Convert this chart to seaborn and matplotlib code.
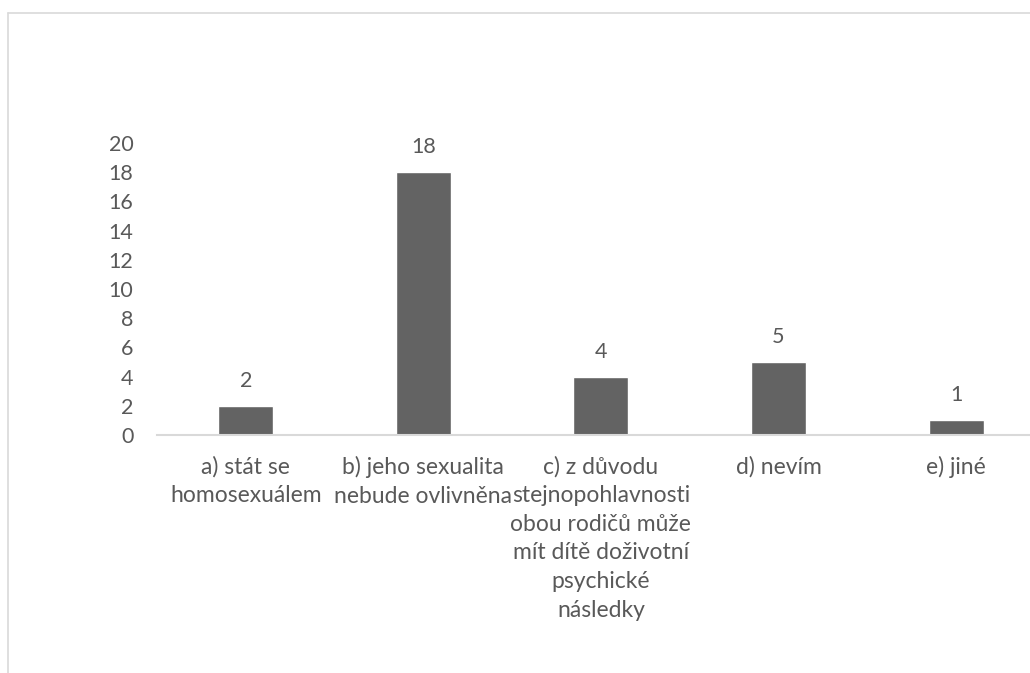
import matplotlib
matplotlib.use('Agg')
import matplotlib.pyplot as plt
import seaborn as sns
from matplotlib.lines import Line2D

# answers and counts
categories = [
    'a) stát se\nhomosexuálem',
    'b) jeho sexualita\nnebude ovlivněna',
    'c) z důvodu\nstejnopohlavnosti\nobou rodičů může\nmít dítě doživotní\npsychické\nnásledky',
    'd) nevím',
    'e) jiné',
]
counts = [2, 18, 4, 5, 1]
y_ticks = [0, 2, 4, 6, 8, 10, 12, 14, 16, 18, 20]

sns.set_style('white')
plt.rcParams['font.family'] = ['Lato', 'DejaVu Sans']
text_color = '#595959'
bar_color = '#636363'
line_color = '#d9d9d9'

fig = plt.figure(figsize=(10.3, 6.73), dpi=100)
ax = fig.add_axes([0.1524, 0.3536, 0.862, 0.4339])

sns.barplot(x=categories, y=counts, color=bar_color, width=0.31,
            saturation=1, ax=ax)

ax.set_xlim(-0.5, 4.5)
ax.set_ylim(0, 20)
ax.set_yticks(y_ticks)
ax.set_yticklabels([str(t) for t in y_ticks])

for i, v in enumerate(counts):
    ax.annotate(str(v), (i, v), xytext=(0, 18), textcoords='offset points',
                ha='center', va='center', fontsize=15.5, color=text_color)

for s in ['top', 'right', 'left']:
    ax.spines[s].set_visible(False)
ax.spines['bottom'].set_color(line_color)
ax.spines['bottom'].set_linewidth(1.5)

ax.tick_params(axis='y', length=0, pad=17, labelsize=15.5, labelcolor=text_color)
ax.tick_params(axis='x', length=0, pad=15, labelsize=16.5, labelcolor=text_color)
for lbl in ax.get_xticklabels():
    lbl.set_linespacing(1.45)
ax.set_xlabel('')
ax.set_ylabel('')

# chart frame (top and left edges visible)
fig.add_artist(Line2D([8 / 1030, 1.0], [1 - 13 / 673, 1 - 13 / 673],
                      transform=fig.transFigure, color=line_color, lw=1.2))
fig.add_artist(Line2D([8 / 1030, 8 / 1030], [0.0, 1 - 13 / 673],
                      transform=fig.transFigure, color=line_color, lw=1.2))

fig.savefig('out.png', dpi=100)
